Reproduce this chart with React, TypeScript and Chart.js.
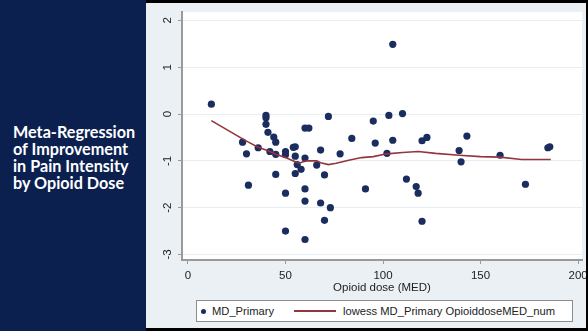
import React, { useEffect, useRef } from 'react';
import { Chart, registerables } from 'chart.js';

Chart.register(...registerables);

// ---- data ----
const doseMED = [
  12, 28, 30, 31, 36, 40, 40, 40, 41, 42, 44, 45, 45, 45, 50, 50, 50, 50, 54, 55,
  55, 55, 56, 58, 60, 62, 60, 60, 60, 60, 66, 68, 68, 70, 70, 72, 73, 78, 84, 91,
  95, 96, 102, 103, 105, 105, 110, 112, 117, 118, 120, 120, 122.5, 139, 140, 143, 160, 173, 184.5, 185.5,
];
const mdPrimary = [
  0.21, -0.6, -0.85, -1.52, -0.72, -0.03, -0.08, -0.22, -0.39, -0.8, -0.49, -0.6, -0.86, -1.29, -0.8, -0.87, -1.69, -2.5, -0.71, -0.7,
  -0.9, -1.27, -1.08, -1.18, -0.3, -0.3, -0.94, -1.6, -1.86, -2.68, -1.09, -0.77, -1.9, -1.3, -2.27, -0.05, -2.0, -0.85, -0.52, -1.6,
  -0.15, -0.62, -0.84, -0.03, 1.49, -0.56, 0.01, -1.39, -1.55, -1.69, -0.57, -2.29, -0.5, -0.78, -1.02, -0.47, -0.88, -1.5, -0.72, -0.7,
];
const lowessDose = [12, 28, 31, 36, 40, 42, 45, 50, 55, 57, 59, 61, 66, 68, 72, 76, 83, 89, 95, 102, 110, 118, 127, 139, 150, 160, 171, 186];
const lowessMD = [-0.14, -0.53, -0.6, -0.71, -0.77, -0.8, -0.86, -0.93, -1.02, -1.05, -1.02, -1.0, -1.0, -1.04, -1.08, -1.05, -0.98, -0.93, -0.91, -0.85, -0.82, -0.8, -0.84, -0.88, -0.91, -0.92, -0.97, -0.97];

const xTicks = [0, 50, 100, 150, 200];
const yTicks = [-3, -2, -1, 0, 1, 2];
const xTitle = 'Opioid dose (MED)';
const scatterLabel = 'MD_Primary';
const lowessLabel = 'lowess MD_Primary OpioiddoseMED_num';
const titleLines = ['Meta-Regression', 'of Improvement', 'in Pain Intensity', 'by Opioid Dose'];

const NAVY_DOT = '#1b2c5e';
const MAROON = '#93353c';
const AXIS_GRAY = '#9a9a9a';
const FONT = '"Liberation Sans", Arial, sans-serif';

const plotBg = {
  id: 'plotBg',
  beforeDraw(chart: any) {
    const { ctx, chartArea } = chart;
    if (!chartArea) return;
    ctx.save();
    ctx.fillStyle = '#ffffff';
    ctx.fillRect(chartArea.left, chartArea.top, chartArea.right - chartArea.left, chartArea.bottom - chartArea.top);
    ctx.restore();
  },
};

// rotated y tick labels (reading bottom-to-top), placed through the y scale
const yLabels = {
  id: 'yLabels',
  afterDraw(chart: any) {
    const { ctx, chartArea, scales } = chart;
    const ys = scales.y;
    ctx.save();
    ctx.fillStyle = '#222';
    ctx.font = `11.5px ${FONT}`;
    ctx.textAlign = 'center';
    ctx.textBaseline = 'middle';
    yTicks.forEach((v) => {
      const py = ys.getPixelForValue(v);
      ctx.save();
      ctx.translate(chartArea.left - 14, py);
      ctx.rotate(-Math.PI / 2);
      ctx.fillText(String(v), 0, 0);
      ctx.restore();
    });
    ctx.restore();
  },
};

function ChartPanel() {
  const ref = useRef<HTMLCanvasElement | null>(null);
  useEffect(() => {
    document.body.style.margin = '0';
    const canvas = ref.current;
    if (!canvas) return;
    const scatterData = doseMED.map((x, i) => ({ x, y: mdPrimary[i] }));
    const lowessData = lowessDose.map((x, i) => ({ x, y: lowessMD[i] }));
    const chart = new Chart(canvas, {
      type: 'scatter',
      data: {
        datasets: [
          {
            label: lowessLabel,
            data: lowessData,
            showLine: true,
            borderColor: MAROON,
            borderWidth: 1.6,
            pointRadius: 0,
            tension: 0,
            order: 0,
          } as any,
          {
            label: scatterLabel,
            data: scatterData,
            backgroundColor: NAVY_DOT,
            borderWidth: 0,
            pointRadius: 3.6,
            order: 1,
          } as any,
        ],
      },
      options: {
        animation: false,
        responsive: false,
        layout: { padding: { top: 9, right: 1, bottom: 28, left: 0 } },
        plugins: { legend: { display: false }, tooltip: { enabled: false } },
        scales: {
          x: {
            type: 'linear',
            min: -3.05,
            max: 202,
            afterBuildTicks: (s: any) => {
              s.ticks = xTicks.map((v) => ({ value: v }));
            },
            afterFit: (s: any) => {
              s.height = 40;
              s.paddingLeft = 0;
              s.paddingRight = 0;
            },
            grid: { drawOnChartArea: false, drawTicks: true, tickLength: 4, tickColor: AXIS_GRAY, tickWidth: 1 },
            border: { display: true, color: AXIS_GRAY, width: 2 },
            ticks: { font: { family: FONT, size: 11.5 }, color: '#222', padding: 5, minRotation: 0, maxRotation: 0, autoSkip: false },
            title: { display: true, text: xTitle, font: { family: FONT, size: 11.5 }, color: '#222', padding: { top: 0, bottom: 5 } },
          },
          y: {
            type: 'linear',
            min: -3.118,
            max: 2.18,
            afterBuildTicks: (s: any) => {
              s.ticks = yTicks.map((v) => ({ value: v }));
            },
            afterFit: (s: any) => {
              s.width = 36;
              s.paddingTop = 0;
              s.paddingBottom = 0;
            },
            grid: { color: '#e7eef2', lineWidth: 1, drawTicks: true, tickLength: 4, tickColor: AXIS_GRAY, tickWidth: 1 },
            border: { display: true, color: AXIS_GRAY, width: 2 },
            ticks: { display: false },
          },
        },
      } as any,
      plugins: [plotBg, yLabels],
    });
    return () => chart.destroy();
  }, []);
  return <canvas ref={ref} width={440} height={325} style={{ display: 'block', width: 440, height: 325 }} />;
}

export default function App() {
  return (
    <div style={{ position: 'relative', width: 588, height: 331, background: '#000', overflow: 'hidden' }}>
      <div style={{ position: 'absolute', left: 0, top: 0, width: 146, height: 331, background: '#0c2050' }}>
        <div
          style={{
            position: 'absolute',
            left: 13,
            top: 123,
            color: '#fff',
            fontFamily: 'Lato, "Open Sans", sans-serif',
            fontWeight: 700,
            fontSize: 16.2,
            lineHeight: '17px',
            whiteSpace: 'nowrap',
          }}
        >
          {titleLines.map((t) => (
            <div key={t}>{t}</div>
          ))}
        </div>
      </div>
      <div style={{ position: 'absolute', left: 146, top: 3, width: 440, height: 325, background: '#eaf0f3' }}>
        <ChartPanel />
      </div>
      <div
        style={{
          position: 'absolute',
          left: 196,
          top: 300,
          width: 377,
          height: 22,
          boxSizing: 'border-box',
          background: '#fff',
          border: '1px solid #8c8c8c',
          fontFamily: FONT,
          fontSize: 11.2,
          color: '#222',
        }}
      >
        <span style={{ position: 'absolute', left: 3.5, top: 8, width: 5, height: 5, borderRadius: '50%', background: NAVY_DOT }} />
        <span style={{ position: 'absolute', left: 15, top: 3, lineHeight: '14px', whiteSpace: 'nowrap' }}>{scatterLabel}</span>
        <span style={{ position: 'absolute', left: 97, top: 9, width: 42, height: 1.5, background: MAROON }} />
        <span style={{ position: 'absolute', left: 146, top: 3, lineHeight: '14px', whiteSpace: 'nowrap' }}>{lowessLabel}</span>
      </div>
    </div>
  );
}
